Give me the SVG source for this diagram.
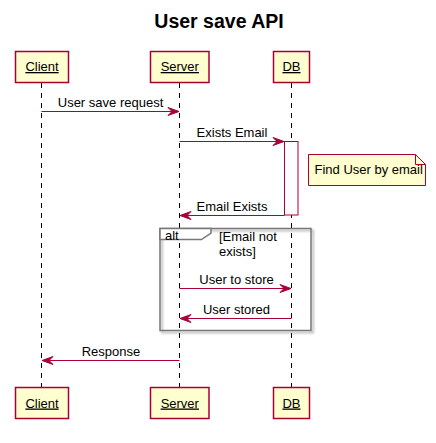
<svg xmlns="http://www.w3.org/2000/svg" width="436" height="443" viewBox="0 0 436 443">
<style>
text{font-family:"Liberation Sans",Arial,sans-serif;font-size:13px;fill:#000}
.title{font-size:19.5px;font-weight:bold}
.part{fill:#FEFECE;stroke:#A80036;stroke-width:1.5}
.plabel{text-decoration:underline;text-anchor:middle}
.life{stroke:#000;stroke-width:1;stroke-dasharray:5,5;fill:none}
.msg{stroke:#A80036;stroke-width:1;fill:none}
.head{fill:#A80036;stroke:#A80036;stroke-width:1}
.mid{text-anchor:middle}
.frame{fill:none;stroke:#777;stroke-width:1.5}
</style>
<defs>
<filter id="sh" x="-10%" y="-10%" width="130%" height="130%">
<feDropShadow dx="2" dy="2" stdDeviation="1" flood-color="#000" flood-opacity="0.35"/>
</filter>
</defs>
<text class="title" x="219" y="28" text-anchor="middle">User save API</text>

<g id="lifelines">
<line class="life" x1="41.5" y1="83" x2="41.5" y2="387"/>
<line class="life" x1="179.5" y1="83" x2="179.5" y2="387"/>
<line class="life" x1="291.5" y1="83" x2="291.5" y2="387"/>
</g>

<g id="alt-frame">
<rect class="frame" x="160" y="228.5" width="151" height="102" filter="url(#sh)"/>
<path d="M160,228.5 H211 V233 L201.5,239.5 H160 Z" fill="#fff" stroke="#777" stroke-width="1.5"/>
<text x="165" y="240">alt</text>
<text x="219" y="241">[Email not</text>
<text x="219" y="256">exists]</text>
</g>

<g id="activation">
<rect x="284.5" y="141.5" width="13.5" height="73.5" fill="#fff" stroke="#A80036" stroke-width="1"/>
</g>

<g id="Client">
<rect class="part" x="15.5" y="51.5" width="53" height="31"/>
<text class="plabel" x="42" y="71">Client</text>
<rect class="part" x="15.5" y="387.5" width="53" height="31"/>
<text class="plabel" x="42" y="407.5">Client</text>
</g>
<g id="Server">
<rect class="part" x="150.5" y="51.5" width="58.5" height="31"/>
<text class="plabel" x="179.8" y="71">Server</text>
<rect class="part" x="150.5" y="387.5" width="58.5" height="31"/>
<text class="plabel" x="179.8" y="407.5">Server</text>
</g>
<g id="DB">
<rect class="part" x="273.5" y="51.5" width="36" height="31"/>
<text class="plabel" x="291.5" y="71">DB</text>
<rect class="part" x="273.5" y="387.5" width="36" height="31"/>
<text class="plabel" x="291.5" y="407.5">DB</text>
</g>

<g id="note">
<path d="M308.5,154.5 H415.5 L425.5,164.5 V185.5 H308.5 Z" fill="#FEFECE" stroke="#A80036" stroke-width="1"/>
<path d="M415.5,154.5 V164.5 H425.5" fill="none" stroke="#A80036" stroke-width="1"/>
<text x="314.5" y="174">Find User by email</text>
</g>

<g id="connectors">
<line class="msg" x1="41.5" y1="111.5" x2="177" y2="111.5"/>
<polygon class="head" points="179,111.5 168,107.5 172,111.5 168,115.5"/>
<text class="mid" x="110.5" y="107">User save request</text>

<line class="msg" x1="179.5" y1="141.5" x2="282" y2="141.5"/>
<polygon class="head" points="284,141.5 273,137.5 277,141.5 273,145.5"/>
<text class="mid" x="232" y="137">Exists Email</text>

<line class="msg" x1="284.5" y1="215.5" x2="182" y2="215.5"/>
<polygon class="head" points="180,215.5 191,211.5 187,215.5 191,219.5"/>
<text class="mid" x="232" y="211">Email Exists</text>

<line class="msg" x1="179.5" y1="288.5" x2="289" y2="288.5"/>
<polygon class="head" points="291,288.5 280,284.5 284,288.5 280,292.5"/>
<text class="mid" x="236.5" y="284">User to store</text>

<line class="msg" x1="291.5" y1="318.5" x2="182" y2="318.5"/>
<polygon class="head" points="180,318.5 191,314.5 187,318.5 191,322.5"/>
<text class="mid" x="236.5" y="313.5">User stored</text>

<line class="msg" x1="179.5" y1="360.5" x2="44" y2="360.5"/>
<polygon class="head" points="42,360.5 53,356.5 49,360.5 53,364.5"/>
<text class="mid" x="111" y="356">Response</text>
</g>
</svg>
